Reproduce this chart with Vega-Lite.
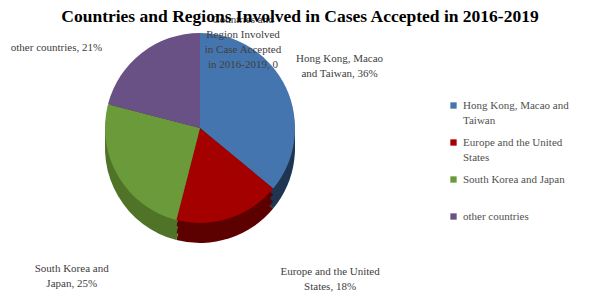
{
  "$schema": "https://vega.github.io/schema/vega-lite/v6.json",
  "autosize": {"type": "none"},
  "width": 400,
  "height": 200,
  "padding": {"top": 28, "left": 0, "right": 207, "bottom": 77},
  "background": "white",
  "title": {
    "text": "Countries and Regions Involved in Cases Accepted in 2016-2019",
    "font": "Liberation Serif",
    "fontSize": 17.5,
    "fontWeight": "bold",
    "color": "#000000",
    "anchor": "middle",
    "frame": "group",
    "dx": 100,
    "offset": -11
  },
  "config": {"view": {"stroke": null}, "style": {"guide-label": {"lineHeight": 15}}},
  "data": {
    "values": [
      {"cat": "Countries and Region Involved in Case Accepted in 2016-2019", "value": 0, "idx": 0, "label": "Countries and\nRegion Involved\nin Case Accepted\nin 2016-2019, 0"},
      {"cat": "Hong Kong, Macao and Taiwan", "value": 36, "idx": 1, "label": "Hong Kong, Macao\nand Taiwan, 36%"},
      {"cat": "Europe and the United States", "value": 18, "idx": 2, "label": "Europe and the United\nStates, 18%"},
      {"cat": "South Korea and Japan", "value": 25, "idx": 3, "label": "South Korea and\nJapan, 25%"},
      {"cat": "other countries", "value": 21, "idx": 4, "label": "other countries, 21%"}
    ]
  },
  "transform": [
    {"stack": "value", "groupby": [], "sort": [{"field": "idx", "order": "ascending"}], "as": ["v0", "v1"]},
    {"calculate": "(datum.v0 + datum.v1) / 2", "as": "mid"}
  ],
  "resolve": {"scale": {"color": "independent"}},
  "layer": [
    {
      "transform": [{"filter": "datum.value > 0"}],
      "mark": {"type": "arc", "outerRadius": 95, "yOffset": 20},
      "encoding": {
        "theta": {"field": "v0", "type": "quantitative", "scale": {"domain": [0, 100]}},
        "theta2": {"field": "v1"},
        "color": {"field": "cat", "type": "nominal", "legend": null,
          "scale": {"domain": ["Hong Kong, Macao and Taiwan", "Europe and the United States", "South Korea and Japan", "other countries"],
                    "range": ["#1f3552", "#5c0000", "#4f7428", "#3f2f55"]}}
      }
    },
    {
      "transform": [{"filter": "datum.value > 0"}],
      "mark": {"type": "arc", "outerRadius": 95, "yOffset": 13},
      "encoding": {
        "theta": {"field": "v0", "type": "quantitative", "scale": {"domain": [0, 100]}},
        "theta2": {"field": "v1"},
        "color": {"field": "cat", "type": "nominal", "legend": null,
          "scale": {"domain": ["Hong Kong, Macao and Taiwan", "Europe and the United States", "South Korea and Japan", "other countries"],
                    "range": ["#1f3552", "#5c0000", "#4f7428", "#3f2f55"]}}
      }
    },
    {
      "transform": [{"filter": "datum.value > 0"}],
      "mark": {"type": "arc", "outerRadius": 95, "yOffset": 6},
      "encoding": {
        "theta": {"field": "v0", "type": "quantitative", "scale": {"domain": [0, 100]}},
        "theta2": {"field": "v1"},
        "color": {"field": "cat", "type": "nominal", "legend": null,
          "scale": {"domain": ["Hong Kong, Macao and Taiwan", "Europe and the United States", "South Korea and Japan", "other countries"],
                    "range": ["#1f3552", "#5c0000", "#4f7428", "#3f2f55"]}}
      }
    },
    {
      "transform": [{"filter": "datum.value > 0"}],
      "mark": {"type": "arc", "outerRadius": 95},
      "encoding": {
        "theta": {"field": "v0", "type": "quantitative", "scale": {"domain": [0, 100]}},
        "theta2": {"field": "v1"},
        "color": {"field": "cat", "type": "nominal",
          "scale": {"domain": ["Hong Kong, Macao and Taiwan", "Europe and the United States", "South Korea and Japan", "other countries"],
                    "range": ["#4575ae", "#a50000", "#6a9a3a", "#6a5185"]},
          "legend": {
            "title": null,
            "orient": "none",
            "legendX": 448,
            "legendY": 72,
            "padding": 0,
            "symbolType": "square",
            "symbolSize": 40,
            "symbolStrokeWidth": 0,
            "labelFont": "Liberation Serif",
            "labelFontSize": 11,
            "labelColor": "#505050",
            "labelLimit": 200,
            "rowPadding": 10,
            "labelExpr": "datum.label == 'Hong Kong, Macao and Taiwan' ? ['Hong Kong, Macao and', 'Taiwan'] : datum.label == 'Europe and the United States' ? ['Europe and the United', 'States'] : datum.label == 'South Korea and Japan' ? ['South Korea and Japan', ' '] : datum.label"
          }
        }
      }
    },
    {
      "transform": [{"filter": "datum.idx == 0"}],
      "mark": {"type": "text", "radius": 120, "dx": 43, "dy": 12, "lineBreak": "\n", "lineHeight": 15, "font": "Liberation Serif", "fontSize": 11, "color": "#404040", "align": "center", "baseline": "middle"},
      "encoding": {
        "theta": {"field": "mid", "type": "quantitative", "scale": {"domain": [0, 100]}},
        "text": {"field": "label"}
      }
    },
    {
      "transform": [{"filter": "datum.idx == 1"}],
      "mark": {"type": "text", "radius": 120, "dx": 31, "dy": -18, "lineBreak": "\n", "lineHeight": 15, "font": "Liberation Serif", "fontSize": 11, "color": "#404040", "align": "center", "baseline": "middle"},
      "encoding": {
        "theta": {"field": "mid", "type": "quantitative", "scale": {"domain": [0, 100]}},
        "text": {"field": "label"}
      }
    },
    {
      "transform": [{"filter": "datum.idx == 2"}],
      "mark": {"type": "text", "radius": 120, "dx": 93, "dy": 30, "lineBreak": "\n", "lineHeight": 15, "font": "Liberation Serif", "fontSize": 11, "color": "#404040", "align": "center", "baseline": "middle"},
      "encoding": {
        "theta": {"field": "mid", "type": "quantitative", "scale": {"domain": [0, 100]}},
        "text": {"field": "label"}
      }
    },
    {
      "transform": [{"filter": "datum.idx == 3"}],
      "mark": {"type": "text", "radius": 120, "dx": -25, "dy": 80, "lineBreak": "\n", "lineHeight": 15, "font": "Liberation Serif", "fontSize": 11, "color": "#404040", "align": "center", "baseline": "middle"},
      "encoding": {
        "theta": {"field": "mid", "type": "quantitative", "scale": {"domain": [0, 100]}},
        "text": {"field": "label"}
      }
    },
    {
      "transform": [{"filter": "datum.idx == 4"}],
      "mark": {"type": "text", "radius": 120, "dx": -70, "dy": 15, "lineBreak": "\n", "lineHeight": 15, "font": "Liberation Serif", "fontSize": 11, "color": "#404040", "align": "center", "baseline": "middle"},
      "encoding": {
        "theta": {"field": "mid", "type": "quantitative", "scale": {"domain": [0, 100]}},
        "text": {"field": "label"}
      }
    }
  ]
}
